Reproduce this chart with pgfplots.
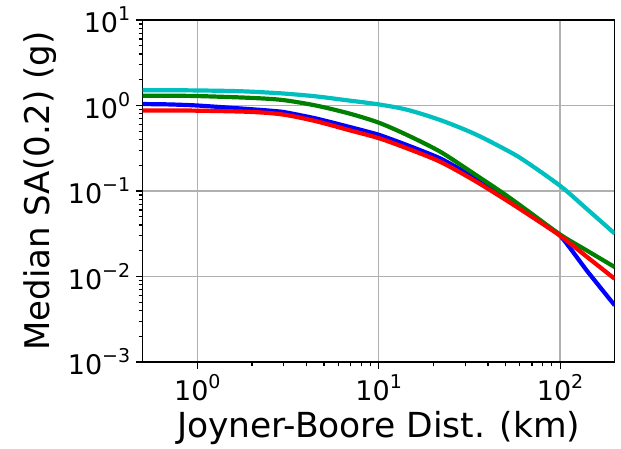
\documentclass[border=0pt]{standalone}
\usepackage{fontspec}
\setmainfont{DejaVu Sans}
\usepackage{pgfplots}
\pgfplotsset{compat=1.18}
\definecolor{mplc}{rgb}{0,0.75,0.75}
\definecolor{mplg}{rgb}{0,0.5,0}
\definecolor{gridc}{HTML}{B0B0B0}
\newcommand{\tp}[1]{10\raisebox{0.45em}{\fontsize{19}{19}\selectfont #1}}

\begin{document}
\begin{tikzpicture}
\useasboundingbox (-142.7pt,-86pt) rectangle (478.3pt,362pt);
\begin{axis}[
 at={(0,0)},anchor=south west,
 scale only axis,width=472pt,height=342pt,
 xmode=log,ymode=log,
 xmin=0.5,xmax=200,ymin=0.001,ymax=10,
 xtick={1,10,100},xticklabels={\tp{0},\tp{1},\tp{2}},
 ytick={0.001,0.01,0.1,1,10},
 yticklabels={\tp{−3},\tp{−2},\tp{−1},\tp{0},\tp{1}},
 tick label style={font=\fontsize{27}{30}\selectfont},
 xlabel={Joyner-Boore Dist. (km)},
 ylabel={Median SA(0.2) (g)},
 xlabel style={font=\fontsize{34.5}{38}\selectfont,at={([yshift=-66pt]axis description cs:0.5,0)},anchor=center},
 ylabel style={font=\fontsize{34}{38}\selectfont,at={([xshift=-103pt]axis description cs:0,0.5)},anchor=center},
 tick align=outside,tick pos=left,
 major tick length=7pt,minor tick length=4pt,
 every tick/.style={black,line width=1.2pt},
 axis line style={line width=1.5pt},
 grid=major,major grid style={gridc,line width=1.3pt},
 xticklabel style={yshift=-2pt},
 yticklabel style={xshift=-2pt},
 clip=true,
]
% blue model
\addplot[blue,line width=4.2pt,smooth,tension=0.3] coordinates {
 (0.5,1.04) (0.7,1.03) (1,1.00) (1.94,0.908) (2.95,0.843) (4.5,0.706) (6.87,0.563)
 (10,0.455) (14.4,0.343) (21.9,0.240) (33.4,0.146) (48.8,0.089) (65.6,0.057)
 (100,0.030) (140,0.0118) (200,0.0046)};
% green model
\addplot[mplg,line width=4.2pt,smooth] coordinates {
 (0.5,1.30) (0.7,1.30) (1,1.29) (1.94,1.23) (2.95,1.16) (4.5,1.00) (6.87,0.807)
 (10,0.63) (14.4,0.45) (21.9,0.287) (33.4,0.160) (48.8,0.0935) (65.6,0.0596)
 (100,0.031) (140,0.0202) (200,0.0129)};
% red model
\addplot[red,line width=4.2pt,smooth] coordinates {
 (0.5,0.875) (0.7,0.875) (1,0.87) (1.94,0.843) (2.95,0.786) (4.5,0.656) (6.87,0.515)
 (10,0.415) (14.4,0.314) (21.9,0.219) (33.4,0.134) (48.8,0.0817) (65.6,0.0545)
 (100,0.030) (140,0.0171) (200,0.0094)};
% cyan model
\addplot[mplc,line width=4.2pt,smooth] coordinates {
 (0.5,1.51) (0.7,1.51) (1,1.50) (1.5,1.48) (2,1.45) (3,1.38) (4.5,1.28) (6.5,1.16)
 (10,1.03) (14.4,0.89) (21.9,0.675) (33.4,0.471) (48.8,0.314) (62.9,0.23)
 (100,0.115) (140,0.062) (200,0.0318)};
\end{axis}
\end{tikzpicture}
\end{document}
